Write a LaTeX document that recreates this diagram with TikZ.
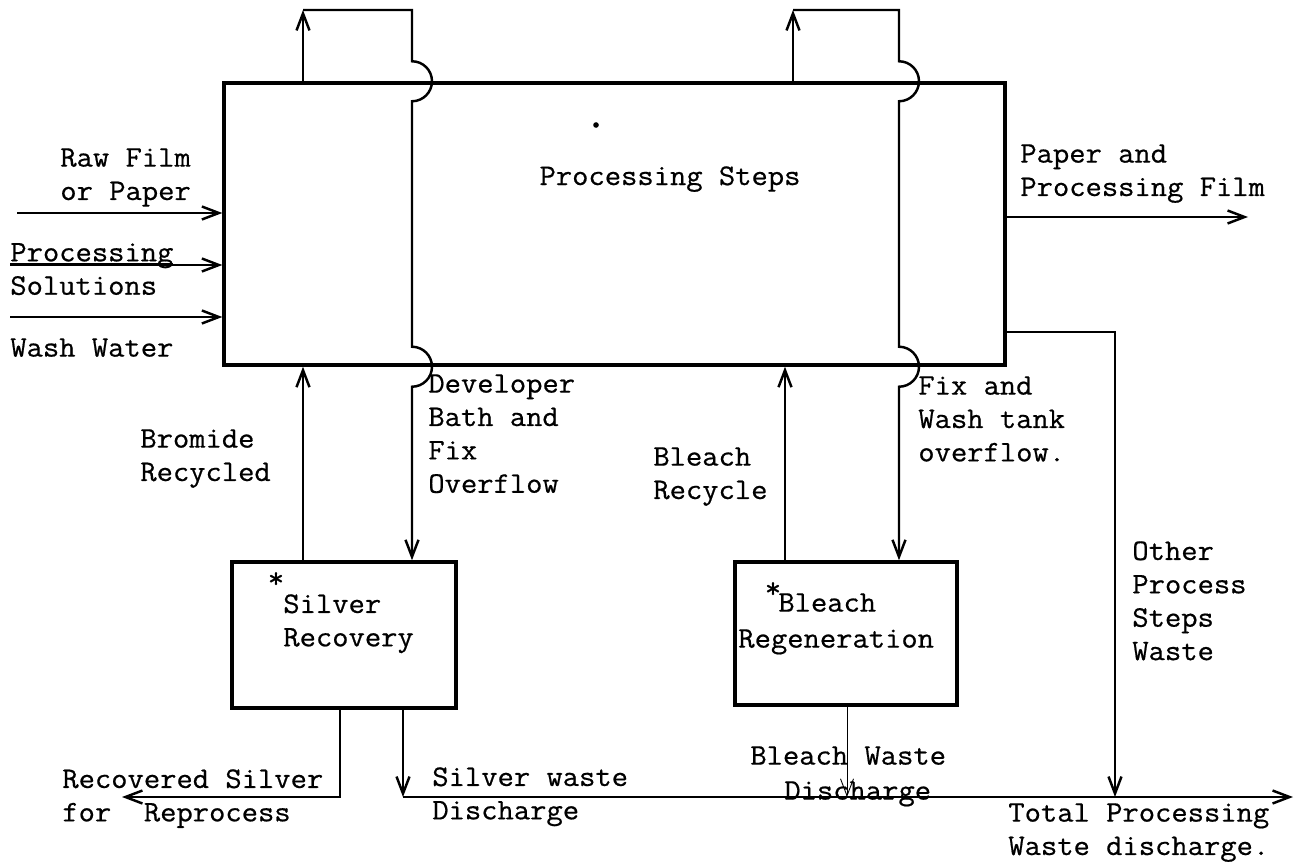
\documentclass[tikz,border=0pt]{standalone}
\usepackage{fontspec}
\setmonofont{Latin Modern Mono}[FakeStretch=1.06, FakeBold=0.6]
\usepackage{tikz}
\usetikzlibrary{arrows.meta,calc}

\newcommand{\lblfont}{\ttfamily\fontsize{17}{19}\selectfont}

\tikzset{
  box/.style={draw, rectangle, line width=2pt, inner sep=0pt},
  flow/.style={->, line width=1.4pt},
  lbl/.style={anchor=north west, inner sep=0pt, align=left, font=\lblfont},
}

\begin{document}
\begin{tikzpicture}[x=0.02cm, y=-0.02cm, >={Straight Barb[length=0.34cm,width=0.26cm]}]
                \useasboundingbox (0,0) rectangle (1299,862);
                % boxes
                \node[box, minimum width=15.62cm, minimum height=5.64cm] (steps) at (614.5,224) {};
                \node[box, minimum width=4.48cm, minimum height=2.92cm] (silver) at (344,635) {};
                \node[box, minimum width=4.44cm, minimum height=2.86cm] (bleach) at (846,633.5) {};
                % free ends
                \coordinate (brtop) at (303,10);
                \coordinate (devtop) at (412,10);
                \coordinate (rctop) at (793,10);
                \coordinate (fixtop) at (899,10);
                \coordinate (rcx) at (785,500);
                \coordinate (raw) at (17,213);
                \coordinate (sol) at (10,265);
                \coordinate (wash) at (10,317);
                \coordinate (out) at (1248,217);
                \coordinate (oth) at (1115,332);
                \coordinate (total) at (1293,797);
                \coordinate (swd) at (403,797);
                \coordinate (bwd) at (847,797);
                \coordinate (recc) at (340,797);
                \coordinate (rec) at (122,797);
                % inputs and output
                \draw[flow] (raw) -- (raw -| steps.west);
                \draw[flow] (sol) -- (sol -| steps.west);
                \draw[flow] (wash) -- (wash -| steps.west);
                \draw[flow] (out -| steps.east) -- (out);
                % loops over the top
                \draw[flow] (steps.north -| brtop) -- (brtop);
                \draw[flow] (brtop) -- (devtop) -- ($(steps.north -| devtop)+(0,-20)$)
                    arc[start angle=90, end angle=-90, radius=0.4cm]
                    -- ($(steps.south -| devtop)+(0,-20)$)
                    arc[start angle=90, end angle=-90, radius=0.4cm]
                    -- (silver.north -| devtop);
                \draw[flow] (steps.north -| rctop) -- (rctop);
                \draw[flow] (rctop) -- (fixtop) -- ($(steps.north -| fixtop)+(0,-20)$)
                    arc[start angle=90, end angle=-90, radius=0.4cm]
                    -- ($(steps.south -| fixtop)+(0,-20)$)
                    arc[start angle=90, end angle=-90, radius=0.4cm]
                    -- (bleach.north -| fixtop);
                % recycle lines
                \draw[flow] (silver.north -| brtop) -- (steps.south -| brtop);
                \draw[flow] (bleach.north -| rcx) -- (steps.south -| rcx);
                % waste lines
                \draw[flow] (oth -| steps.east) -- (oth) -- (oth |- total);
                \draw[flow] (silver.south -| swd) -- (swd);
                \draw[flow] (swd) -- (total);
                \draw[->, line width=0.5pt] (bleach.south -| bwd) -- (bwd);
                \draw[flow] (silver.south -| recc) -- (recc) -- (rec);
                % labels
                \node[lbl] (rawl) at (60,148) {Raw Film\\or Paper};
                \node[lbl] (soll) at (10,261) {\underline{\smash{Processing}}\\Solutions};
                \node[lbl] (washl) at (10,338) {Wash Water};
                \node[anchor=base, inner sep=0pt, font=\lblfont] (stepsl) at (670,185) {Processing Steps};
                \fill (596,125) circle (1.6pt);
                \node[lbl] (outl) at (1020,144) {Paper and\\Processing Film};
                \node[lbl] (brl) at (140,429) {Bromide\\Recycled};
                \node[lbl] (devl) at (428,374) {Developer\\Bath and\\Fix\\Overflow};
                \node[lbl] (rcl) at (653,447) {Bleach\\Recycle};
                \node[lbl] (fixl) at (918,376) {Fix and\\Wash tank\\overflow.};
                \node[lbl] (othl) at (1132,541) {Other\\Process\\Steps\\Waste};
                \node[lbl] (silverl) at (283,594) {Silver\\Recovery};
                \node[font=\lblfont, inner sep=0pt] (silvers) at (276,580) {*};
                \node[lbl] (bleachl) at (778,593) {Bleach};
                \node[lbl] (regenl) at (738,629) {Regeneration};
                \node[font=\lblfont, inner sep=0pt] (bleachs) at (773,590) {*};
                \node[lbl] (recl) at (62,769) {Recovered Silver\\for\ \ Reprocess};
                \node[lbl] (swdl) at (432,767) {Silver waste\\Discharge};
                \node[lbl] (bwdl) at (750,746) {Bleach Waste};
                \node[lbl] (bwdl2) at (784,781) {Discharge};
                \node[lbl] (totall) at (1008,803) {Total Processing\\Waste discharge.};
            \end{tikzpicture}
\end{document}
